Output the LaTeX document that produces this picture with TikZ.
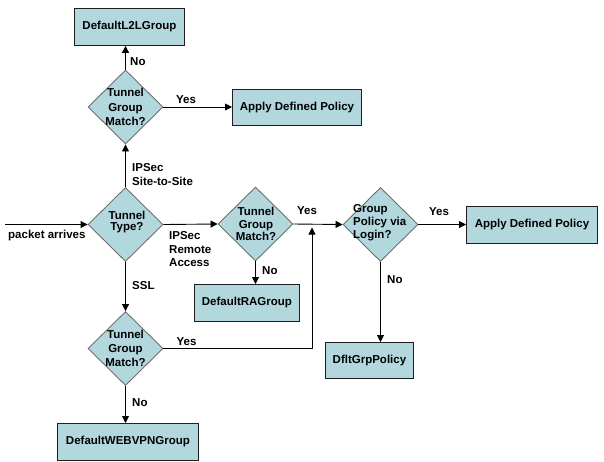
\documentclass[tikz,border=0pt]{standalone}
\usepackage{fontspec}
\setmainfont{Liberation Sans}
\usetikzlibrary{shapes.geometric,arrows.meta}
\definecolor{boxfill}{RGB}{178,216,222}
\definecolor{diaedge}{RGB}{110,110,110}
\definecolor{boxedge}{RGB}{30,30,30}
\tikzset{
  every node/.style={font=\fontsize{11.5}{14}\selectfont\bfseries},
  box/.style={draw=boxedge,fill=boxfill,line width=0.9pt,inner sep=0pt,anchor=north west},
  dia/.style={draw=diaedge,fill=boxfill,line width=0.9pt,diamond,inner sep=0pt,minimum width=75pt,minimum height=74pt},
  dtext/.style={align=center,inner sep=0pt},
  lbl/.style={inner sep=0pt,align=left},
  conn/.style={draw=black,line width=0.9pt,-{Triangle[length=7pt,width=7pt]}},
  plain/.style={draw=black,line width=0.9pt}
}
\begin{document}
\begin{tikzpicture}[x=1pt,y=-1pt]
\useasboundingbox (0,0) rectangle (604,461);
% boxes
\node[box,minimum width=110pt,minimum height=37pt] (l2l) at (74,8) {};
\node at (l2l.center) {DefaultL2LGroup};
\node[box,minimum width=129pt,minimum height=36pt] (apply1) at (232,89) {};
\node at (apply1.center) {Apply Defined Policy};
\node[box,minimum width=105pt,minimum height=37pt] (ra) at (194,284) {};
\node at (ra.center) {DefaultRAGroup};
\node[box,minimum width=131pt,minimum height=37pt] (apply2) at (466,206) {};
\node at (apply2.center) {Apply Defined Policy};
\node[box,minimum width=88pt,minimum height=36pt] (dflt) at (325,342) {};
\node at (dflt.center) {DfltGrpPolicy};
\node[box,minimum width=141pt,minimum height=37pt] (web) at (57,423) {};
\node at (web.center) {DefaultWEBVPNGroup};
% diamonds
\node[dia] (d1) at (125.5,107) {};
\node[dtext,font=\fontsize{11.5}{14.5}\selectfont\bfseries] at (d1.center) {Tunnel\\Group\\Match?};
\node[dia] (d2) at (125.5,224.5) {};
\node[dtext,font=\fontsize{11.5}{11.5}\selectfont\bfseries] at (127,222) {Tunnel\\Type?};
\node[dia] (d3) at (255.5,224) {};
\node[dtext,font=\fontsize{11.5}{12.5}\selectfont\bfseries] at (256,224) {Tunnel\\Group\\Match?};
\node[dia] (d4) at (380.5,224.5) {};
\node[dtext,font=\fontsize{11.5}{13}\selectfont\bfseries,align=left,anchor=west] at (353,223) {Group\\Policy via\\Login?};
\node[dia] (d5) at (125.5,348.5) {};
\node[dtext,font=\fontsize{11.5}{14}\selectfont\bfseries] at (d5.center) {Tunnel\\Group\\Match?};
% free ends
\coordinate (start) at (5,224.5);
\coordinate (bend) at (312,348.5);
\coordinate (up) at (312,227.5);
% connectors
\draw[conn] (d1.north) -- (d1.north |- l2l.south);
\draw[conn] (d1.east) -- (d1.east -| apply1.west);
\draw[conn] (d2.north) -- (d1.south);
\draw[conn] (start) -- (d2.west);
\draw[conn] (d2.east) -- (d3.west);
\draw[conn] (d3.south) -- (d3.south |- ra.north);
\draw[conn] (d3.east) -- (d4.west);
\draw[conn] (d4.east) -- (d4.east -| apply2.west);
\draw[conn] (d4.south) -- (d4.south |- dflt.north);
\draw[conn] (d2.south) -- (d5.north);
\draw[conn] (d5.south) -- (d5.south |- web.north);
\draw[conn] (d5.east) -- (bend) -- (up);
% labels
\node[lbl,anchor=west] at (130,62) {No};
\node[lbl] at (186,99.5) {Yes};
\node[lbl,anchor=west,font=\fontsize{11.5}{14}\selectfont\bfseries] at (132,175) {IPSec\\Site-to-Site};
\node[lbl,anchor=west] at (8,235.5) {packet arrives};
\node[lbl,anchor=west,font=\fontsize{11.5}{13.5}\selectfont\bfseries] at (169,249.5) {IPSec\\Remote\\Access};
\node[lbl] at (307,211) {Yes};
\node[lbl,anchor=west] at (262,270.5) {No};
\node[lbl] at (439,211.5) {Yes};
\node[lbl,anchor=west] at (387,279.5) {No};
\node[lbl,anchor=west] at (132,286) {SSL};
\node[lbl] at (186.5,341.5) {Yes};
\node[lbl,anchor=west] at (132,402.5) {No};
\end{tikzpicture}
\end{document}
